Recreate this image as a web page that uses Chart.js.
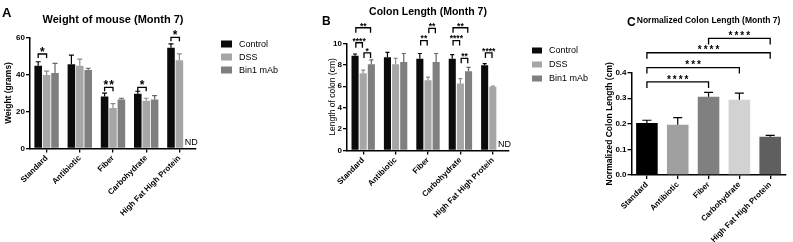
<!DOCTYPE html>
<html><head><meta charset="utf-8">
<script src="https://cdn.jsdelivr.net/npm/chart.js@4.4.0/dist/chart.umd.min.js"></script>
<style>
html,body{margin:0;padding:0;background:#fff;width:793px;height:242px;overflow:hidden}
canvas{position:absolute;top:0}
#ca{left:0}
#cb{left:270px}
#cc{left:595px}
</style></head><body>
<canvas id="ca" width="300" height="242"></canvas>
<canvas id="cb" width="330" height="242"></canvas>
<canvas id="cc" width="198" height="242"></canvas>
<script>
// ---------- DATA ----------
const categories = ['Standard', 'Antibiotic', 'Fiber', 'Carbohydrate', 'High Fat High Protein'];
const seriesNames = ['Control', 'DSS', 'Bin1 mAb'];

// Panel A: Weight of mouse (Month 7), grams
const weightControl    = [44.6, 45.4, 28.1, 29.6, 54.4];
const weightControlErr = [2.2, 5.0, 1.8, 1.3, 2.1];
const weightDSS        = [39.6, 44.6, 21.9, 25.8, 47.6];
const weightDSSErr     = [2.1, 3.6, 2.3, 1.3, 3.5];
const weightBin1       = [40.8, 42.4, 26.4, 26.4, null];
const weightBin1Err    = [5.1, 0.9, 0.7, 2.1, null];
const weightTicks      = [0, 20, 40, 60];
// significance: [category, series a, series b, bracket level, label]
const weightSig = [
  [0, 0, 1, 51, '*'],
  [2, 0, 1, 33, '**'],
  [3, 0, 1, 33, '*'],
  [4, 0, 1, 60, '*']
];

// Panel B: Colon length (Month 7), cm
const colonControl    = [8.85, 8.7, 8.55, 8.55, 7.95];
const colonControlErr = [0.15, 0.45, 0.5, 0.4, 0.15];
const colonDSS        = [7.2, 8.05, 6.55, 6.25, 5.95];
const colonDSSErr     = [0.3, 0.55, 0.3, 0.45, 0.05];
const colonBin1       = [8.05, 8.25, 8.25, 7.4, null];
const colonBin1Err    = [0.4, 0.8, 0.8, 0.35, null];
const colonTicks      = [0, 2, 4, 6, 8, 10];
const colonSig = [
  [0, 0, 2, 11.45, '**'],
  [0, 0, 1, 10.05, '****'],
  [0, 1, 2, 9.1, '*'],
  [2, 0, 1, 10.25, '**'],
  [2, 1, 2, 11.4, '**'],
  [3, 0, 2, 11.45, '**'],
  [3, 0, 1, 10.25, '****'],
  [3, 1, 2, 8.6, '**'],
  [4, 0, 1, 9.1, '****']
];

// Panel C: Normalized colon length (Month 7), cm
const normLength    = [0.203, 0.196, 0.306, 0.294, 0.150];
const normLengthErr = [0.011, 0.028, 0.017, 0.026, 0.005];
const normTicks     = [0, 0.1, 0.2, 0.3, 0.4];
// [category a, category b, bracket level, label]
const normSig = [
  [0, 2, 0.364, '****'],
  [0, 3, 0.420, '***'],
  [0, 4, 0.478, '****'],
  [2, 4, 0.534, '****']
];

// ---------- STYLE ----------
const FONT = "'Liberation Sans', Arial, sans-serif";
const seriesColors = ['#0b0b0b', '#a6a6a6', '#7f7f7f'];
const seriesErrColors = ['#000000', '#8c8c8c', '#666666'];
const normColors = ['#000000', '#a0a0a0', '#808080', '#d2d2d2', '#5f5f5f'];

// ---------- PLUGINS ----------
const annot = {
  id: 'annot',
  afterDatasetsDraw(chart, args, o) {
    const ctx = chart.ctx, ys = chart.scales.y;
    ctx.save();
    chart.data.datasets.forEach((ds, di) => {
      const meta = chart.getDatasetMeta(di);
      meta.data.forEach((el, i) => {
        const v = ds.data[i], e = ds.errors ? ds.errors[i] : null;
        if (v == null) {
          if (o.nd && isFinite(el.x)) {
            ctx.fillStyle = '#000';
            ctx.font = o.ndFont + 'px ' + FONT;
            ctx.textAlign = 'center';
            ctx.textBaseline = 'alphabetic';
            ctx.fillText('ND', el.x + o.ndDx, ys.getPixelForValue(0) - o.ndDy);
          }
          return;
        }
        if (e == null) return;
        const y1 = ys.getPixelForValue(v + e);
        const col = Array.isArray(ds.errorColor) ? ds.errorColor[i] : ds.errorColor;
        ctx.strokeStyle = col || '#000';
        ctx.lineWidth = o.errWidth;
        ctx.beginPath();
        ctx.moveTo(el.x, el.y);
        ctx.lineTo(el.x, y1);
        ctx.moveTo(el.x - o.cap / 2, y1);
        ctx.lineTo(el.x + o.cap / 2, y1);
        ctx.stroke();
      });
    });
    (o.brackets || []).forEach(b => {
      const p1 = chart.getDatasetMeta(b.from[1]).data[b.from[0]];
      const p2 = chart.getDatasetMeta(b.to[1]).data[b.to[0]];
      const y = ys.getPixelForValue(b.level);
      const x1 = p1.x + o.inset, x2 = p2.x - o.inset;
      ctx.strokeStyle = '#000';
      ctx.lineWidth = o.brWidth;
      ctx.beginPath();
      ctx.moveTo(x1, y + o.tick);
      ctx.lineTo(x1, y);
      ctx.lineTo(x2, y);
      ctx.lineTo(x2, y + o.tick);
      ctx.stroke();
      ctx.fillStyle = '#000';
      ctx.font = 'bold ' + o.starSize + 'px ' + FONT;
      ctx.letterSpacing = o.starSpacing + 'px';
      ctx.textAlign = 'center';
      ctx.textBaseline = 'alphabetic';
      ctx.fillText(b.label, (x1 + x2) / 2 + o.starSpacing / 2, y - o.starGap + 0.57 * o.starSize);
      ctx.letterSpacing = '0px';
    });
    ctx.restore();
  }
};

const sideLegend = {
  id: 'sideLegend',
  afterDraw(chart, args, o) {
    if (!o.display) return;
    const ctx = chart.ctx;
    ctx.save();
    chart.data.datasets.forEach((ds, i) => {
      const y = o.y + i * o.dy;
      ctx.fillStyle = ds.backgroundColor;
      ctx.fillRect(o.x, y - o.boxH / 2, o.boxW, o.boxH);
      ctx.fillStyle = '#000';
      ctx.font = o.size + 'px ' + FONT;
      ctx.textAlign = 'left';
      ctx.textBaseline = 'middle';
      ctx.fillText(ds.label, o.x + o.textDx, y + 0.5);
    });
    ctx.restore();
  }
};

const panelLetter = {
  id: 'panelLetter',
  afterDraw(chart, args, o) {
    const ctx = chart.ctx;
    ctx.save();
    ctx.fillStyle = '#000';
    ctx.font = 'bold ' + o.size + 'px ' + FONT;
    ctx.textAlign = 'left';
    ctx.textBaseline = 'alphabetic';
    ctx.fillText(o.text, o.x, o.y);
    ctx.restore();
  }
};

// ---------- BUILDERS ----------
function groupedDatasets(vals, errs) {
  return vals.map((v, i) => ({
    label: seriesNames[i],
    data: v,
    errors: errs[i],
    backgroundColor: seriesColors[i],
    errorColor: seriesErrColors[i],
    borderWidth: 0
  }));
}
function sigGrouped(list) {
  return list.map(s => ({from: [s[0], s[1]], to: [s[0], s[2]], level: s[3], label: s[4]}));
}
function sigAcross(list) {
  return list.map(s => ({from: [s[0], 0], to: [s[1], 0], level: s[2], label: s[3]}));
}

function makeOptions(c) {
  return {
    responsive: false,
    animation: false,
    events: [],
    layout: {padding: {left: 0, top: 0, right: c.padRight, bottom: 0}},
    datasets: {bar: {categoryPercentage: c.catPct, barPercentage: c.barPct}},
    plugins: {
      legend: {display: false},
      tooltip: {enabled: false},
      title: {
        display: true, text: c.title, fullSize: false, color: '#000',
        font: {family: FONT, size: c.titleSize, weight: 'bold'},
        padding: {top: c.tTop, bottom: c.tBottom}
      },
      annot: c.annot,
      sideLegend: c.legend,
      panelLetter: c.letter
    },
    scales: {
      x: {
        type: 'category',
        grid: {display: true, drawOnChartArea: false, offset: false, tickLength: 4, color: '#000', lineWidth: 1.3},
        border: {color: '#000', width: 1.5},
        ticks: {autoSkip: false, maxRotation: 45, minRotation: 45, padding: 1, color: '#000',
                font: {family: FONT, size: 8, weight: 'bold'}},
        afterFit(s) { s.height = c.xH; s.paddingLeft = 0; s.paddingRight = 0; }
      },
      y: {
        min: c.ticks[0], max: c.ticks[c.ticks.length - 1],
        grid: {display: true, drawOnChartArea: false, tickLength: 4, color: '#000', lineWidth: 1.3},
        border: {color: '#000', width: 1.5},
        ticks: {padding: 1, color: '#000', font: {family: FONT, size: 8, weight: 'bold'},
                callback: c.fmt},
        afterBuildTicks(s) { s.ticks = c.ticks.map(v => ({value: v})); },
        afterFit(s) { s.width = c.yW; s.paddingTop = 0; s.paddingBottom = 0; },
        title: {display: true, text: c.yTitle, color: '#000',
                font: {family: FONT, size: 8.5, weight: c.yTitleWeight},
                padding: {top: c.yTitlePad, bottom: 0}}
      }
    }
  };
}

Chart.register(annot, sideLegend, panelLetter);

// Panel A
new Chart(document.getElementById('ca'), {
  type: 'bar',
  data: {
    labels: categories,
    datasets: groupedDatasets([weightControl, weightDSS, weightBin1], [weightControlErr, weightDSSErr, weightBin1Err])
  },
  options: makeOptions({
    padRight: 104, catPct: 0.76, barPct: 0.9,
    title: 'Weight of mouse (Month 7)', titleSize: 11, tTop: 13.4, tBottom: 10.7,
    xH: 93.5, yW: 30, ticks: weightTicks, fmt: v => String(v),
    yTitle: 'Weight (grams)', yTitleWeight: 'bold', yTitlePad: 4,
    annot: {errWidth: 1.2, cap: 5, brackets: sigGrouped(weightSig), inset: 0, tick: 4, brWidth: 1.3,
            starSize: 12, starSpacing: 1, starGap: 5, nd: true, ndDx: 3.5, ndDy: 4, ndFont: 9},
    legend: {display: true, x: 221, y: 44, dy: 13, boxW: 11, boxH: 7, textDx: 18, size: 9},
    letter: {text: 'A', x: 2, y: 17, size: 13}
  })
});

// Panel B
new Chart(document.getElementById('cb'), {
  type: 'bar',
  data: {
    labels: categories,
    datasets: groupedDatasets([colonControl, colonDSS, colonBin1], [colonControlErr, colonDSSErr, colonBin1Err])
  },
  options: makeOptions({
    padRight: 91, catPct: 0.755, barPct: 0.87,
    title: 'Colon Length (Month 7)', titleSize: 10.5, tTop: 6.2, tBottom: 24.5,
    xH: 91.5, yW: 77, ticks: colonTicks, fmt: v => String(v),
    yTitle: 'Length of colon (cm)', yTitleWeight: 'normal', yTitlePad: 58,
    annot: {errWidth: 1.2, cap: 4, brackets: sigGrouped(colonSig), inset: 0.8, tick: 5, brWidth: 1.3,
            starSize: 8.5, starSpacing: 0, starGap: 4, nd: true, ndDx: 3.5, ndDy: 4, ndFont: 9},
    legend: {display: true, x: 262, y: 50.5, dy: 14, boxW: 10, boxH: 6, textDx: 17, size: 9},
    letter: {text: 'B', x: 52, y: 25, size: 12}
  })
});

// Panel C
new Chart(document.getElementById('cc'), {
  type: 'bar',
  data: {
    labels: categories,
    datasets: [{
      label: 'Normalized Colon Length',
      data: normLength,
      errors: normLengthErr,
      backgroundColor: normColors,
      errorColor: '#000',
      borderWidth: 0
    }]
  },
  options: makeOptions({
    padRight: 7.4, catPct: 0.7, barPct: 1.0,
    title: 'Normalized Colon Length (Month 7)', titleSize: 8.5, tTop: 15.9, tBottom: 46.6,
    xH: 67, yW: 36.5, ticks: normTicks, fmt: v => v.toFixed(1),
    yTitle: 'Normalized Colon Length (cm)', yTitleWeight: 'bold', yTitlePad: 9.4,
    annot: {errWidth: 1.2, cap: 9, brackets: sigAcross(normSig), inset: 0, tick: 6, brWidth: 1.3,
            starSize: 10, starSpacing: 2, starGap: 5, nd: false},
    legend: {display: false},
    letter: {text: 'C', x: 32, y: 26, size: 12}
  })
});
</script>
</body></html>
